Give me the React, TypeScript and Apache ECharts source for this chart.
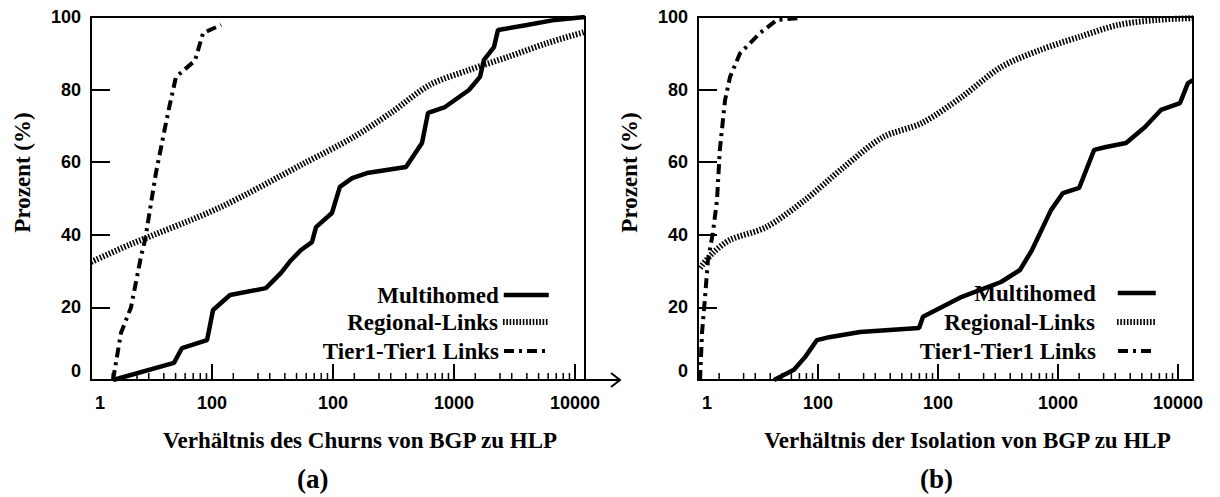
import React, { useEffect, useRef } from 'react';
import * as echarts from 'echarts';

const SERIES_NAMES = ['Multihomed', 'Regional-Links', 'Tier1-Tier1 Links'];
const X_TICK_LABELS = ['1', '100', '100', '1000', '10000'];
const MINOR_MANTISSAS = [1.5, 2.4, 3, 4, 5, 6, 7, 8, 9];
const MINOR_DECADES = [1, 10, 100, 1000];
const X_TITLES = ['Verhältnis des Churns von BGP zu HLP', 'Verhältnis der Isolation von BGP zu HLP'];
const Y_TITLE = 'Prozent (%)';
const CAPTIONS = ['(a)', '(b)'];

// Panel (a)
const A_MULTI_X = [1.52, 4.85, 5.65, 9.1, 10.2, 14.1, 27.9, 37.2, 45, 54.4, 67, 72.4, 98, 114, 144, 191, 401, 544, 610, 843, 1330, 1640, 1770, 2140, 2310, 4010, 6840, 12100];
const A_MULTI_Y = [0, 4.7, 8.8, 11, 19.3, 23.4, 25.3, 29.5, 33, 35.8, 38, 42.1, 46, 53.2, 55.6, 57, 58.7, 65.3, 73.6, 75.2, 79.9, 83.5, 88.2, 91.7, 96.4, 97.8, 99.2, 100];
const A_REG_X = [1, 2.06, 11.4, 58.6, 144, 301, 632, 1330, 2790, 5870, 12100];
const A_REG_Y = [32.5, 37.2, 47.4, 59.8, 66.7, 73.6, 81.3, 85.4, 89, 92.8, 95.9];
const A_TIER_X = [1.52, 1.77, 2.14, 2.59, 2.8, 3.44, 4.33, 5.04, 7.24, 8.44, 11.9];
const A_TIER_Y = [0, 13, 20, 34, 38.6, 57, 73.6, 83.5, 88, 95.6, 97.8];

// Panel (b)
const B_MULTI_X = [4.3, 6.3, 7.8, 9.8, 12.4, 22.4, 69.5, 75, 158, 335, 482, 607, 874, 1100, 1500, 2000, 2510, 3690, 5310, 7210, 10400, 12100, 13300];
const B_MULTI_Y = [0, 2.8, 6.3, 11, 11.8, 13.2, 14.3, 17.4, 22.9, 27, 30.3, 35.8, 46.8, 51.5, 52.9, 63.4, 64.2, 65.3, 69.7, 74.4, 76.3, 81.8, 82.6];
const B_REG_X = [1.04, 1.33, 1.85, 3.69, 7.8, 16.5, 34.8, 73.6, 158, 335, 708, 1500, 3160, 6680, 13300];
const B_REG_Y = [30.9, 35, 38.6, 42.1, 49.6, 58.7, 66.9, 70.8, 78, 86.2, 90.9, 94.5, 97.8, 99.2, 99.7];
const B_TIER_X = [1.04, 1.08, 1.14, 1.21, 1.33, 1.44, 1.52, 1.68, 1.85, 2.24, 3.29, 4.55, 7.08];
const B_TIER_Y = [0, 13, 22, 33, 40.5, 49.6, 63.4, 77.1, 83.5, 90, 95.6, 99.2, 99.7];

const X_MAX = [12100, 13335];

const SERIF = "'Liberation Serif', 'Times New Roman', serif";
const SANS = "'Liberation Sans', Arial, sans-serif";

const zip = (xs: number[], ys: number[]) => xs.map((x, i) => [x, ys[i]]);

const STYLES: any[] = [
  { width: 4.5, type: 'solid' },
  { width: 6, type: [1.6, 1.7] },
  { width: 4, type: [10, 5, 3, 5] },
];

function buildOption() {
  const grids = [
    { left: 91, top: 17, width: 494, height: 363 },
    { left: 698, top: 17, width: 495, height: 363 },
  ].map((g) => ({ ...g, show: true, borderColor: '#000', borderWidth: 2, backgroundColor: 'transparent' }));

  const xAxes = [0, 1].map((i) => ({
    type: 'log',
    logBase: 10,
    gridIndex: i,
    min: 1,
    max: X_MAX[i],
    splitNumber: 4,
    name: X_TITLES[i],
    nameLocation: 'middle',
    nameGap: 49,
    nameTextStyle: { fontFamily: SERIF, fontWeight: 'bold', fontSize: 23, color: '#000', padding: [0, 0, 0, 44] },
    axisLine: { show: true, lineStyle: { color: '#000', width: 2 } },
    axisTick: { show: true, inside: true, length: 16, lineStyle: { color: '#000', width: 2 } },
    splitLine: { show: false },
    axisLabel: {
      margin: 14,
      color: '#000',
      fontFamily: SANS,
      fontWeight: 'bold',
      fontSize: 18,
      formatter: (v: number) => {
        const e = Math.log10(v);
        const r = Math.round(e);
        if (Math.abs(e - r) > 0.01 || r < 0 || r >= X_TICK_LABELS.length) return '';
        return r === 0 ? '{one|' + X_TICK_LABELS[0] + '}' : X_TICK_LABELS[r];
      },
      rich: { one: { fontFamily: SANS, fontWeight: 'bold', fontSize: 18, color: '#000', padding: [0, 0, 0, 18] } },
    },
  }));

  const yAxes = [0, 1].map((i) => ({
    type: 'value',
    gridIndex: i,
    min: 0,
    max: 100,
    interval: 20,
    name: Y_TITLE,
    nameLocation: 'middle',
    nameGap: 57,
    nameTextStyle: { fontFamily: SERIF, fontWeight: 'bold', fontSize: 23, color: '#000', padding: [0, 0, 0, 52] },
    axisLine: { show: true, lineStyle: { color: '#000', width: 2 } },
    axisTick: { show: true, inside: true, length: 19, lineStyle: { color: '#000', width: 2 } },
    splitLine: { show: false },
    axisLabel: {
      margin: 10,
      color: '#000',
      fontFamily: SANS,
      fontWeight: 'bold',
      fontSize: 18,
      formatter: (v: number) => (v === 0 ? '{z|0}' : String(v)),
      rich: { z: { fontFamily: SANS, fontWeight: 'bold', fontSize: 18, color: '#000', padding: [0, 0, 18, 0] } },
    },
  }));

  const panels = [
    [zip(A_MULTI_X, A_MULTI_Y), zip(A_REG_X, A_REG_Y), zip(A_TIER_X, A_TIER_Y)],
    [zip(B_MULTI_X, B_MULTI_Y), zip(B_REG_X, B_REG_Y), zip(B_TIER_X, B_TIER_Y)],
  ];

  const series: any[] = [];
  panels.forEach((data, p) => {
    data.forEach((d, k) => {
      series.push({
        type: 'line',
        name: SERIES_NAMES[k],
        xAxisIndex: p,
        yAxisIndex: p,
        data: d,
        symbol: 'none',
        color: '#000',
        itemStyle: { color: '#000' },
        smooth: k === 1 ? 0.3 : false,
        lineStyle: { color: '#000', width: STYLES[k].width, type: STYLES[k].type, cap: 'butt' },
        silent: true,
        z: 3,
      });
    });
  });

  const minorVals: number[] = [];
  MINOR_DECADES.forEach((d) => MINOR_MANTISSAS.forEach((m) => minorVals.push(d * m)));
  [0, 1].forEach((p) => {
    series.push({
      type: 'custom',
      xAxisIndex: p,
      yAxisIndex: p,
      silent: true,
      clip: false,
      data: minorVals.map((v) => [v, 0]),
      renderItem: (_params: any, api: any) => {
        const pt = api.coord([api.value(0), 0]);
        return {
          type: 'line',
          shape: { x1: pt[0], y1: pt[1], x2: pt[0], y2: pt[1] - 7 },
          style: { stroke: '#000', lineWidth: 1.5 },
        };
      },
      z: 4,
    });
  });

  const legendDefs = [
    { right: 669, centers: [295, 322, 351], w: 45, pad: 0 },
    { right: 62, centers: [293, 322, 351], w: 38, pad: 17 },
  ];
  const legends: any[] = [];
  legendDefs.forEach((ld) => {
    SERIES_NAMES.forEach((n, k) => {
      legends.push({
        data: [n],
        right: ld.right,
        top: ld.centers[k] - 11.5,
        padding: 0,
        align: 'right',
        itemWidth: ld.w,
        itemHeight: 12,
        selectedMode: false,
        textStyle: { fontFamily: SERIF, fontWeight: 'bold', fontSize: 23, color: '#000', padding: [0, ld.pad, 0, 0] },
        lineStyle: { width: STYLES[k].width, color: '#000' },
        itemStyle: { opacity: 0, borderWidth: 0 },
      });
    });
  });

  const titles = [
    { text: CAPTIONS[0], left: 297, top: 465 },
    { text: CAPTIONS[1], left: 920, top: 465 },
  ].map((t) => ({ ...t, padding: 0, textStyle: { fontFamily: SERIF, fontWeight: 'bold', fontSize: 27, color: '#000' } }));

  return {
    animation: false,
    backgroundColor: '#fff',
    grid: grids,
    xAxis: xAxes,
    yAxis: yAxes,
    legend: legends,
    title: titles,
    series,
    graphic: [
      { type: 'line', shape: { x1: 585, y1: 380, x2: 620, y2: 380 }, style: { stroke: '#000', lineWidth: 2 } },
      { type: 'polyline', shape: { points: [[611, 373], [620, 380], [611, 387]] }, style: { stroke: '#000', lineWidth: 2, fill: null } },
    ],
  };
}

export default function App() {
  const ref = useRef<HTMLDivElement>(null);
  useEffect(() => {
    if (!ref.current) return;
    const chart = echarts.init(ref.current, undefined, { renderer: 'svg' });
    chart.setOption(buildOption() as any);
    return () => chart.dispose();
  }, []);
  return <div ref={ref} style={{ position: 'fixed', left: 0, top: 0, width: 1220, height: 497, background: '#fff' }} />;
}
